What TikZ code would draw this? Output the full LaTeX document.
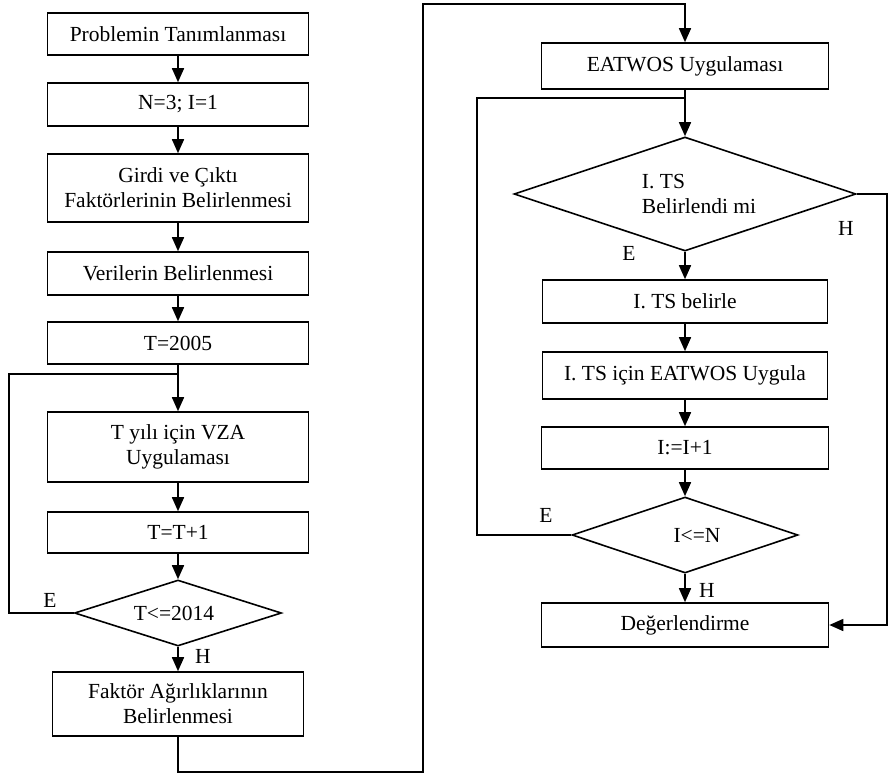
\documentclass[tikz,border=0pt]{standalone}
\usepackage{fontspec}
\setmainfont{Liberation Serif}
\usepackage{tikz}
\usetikzlibrary{shapes,arrows.meta}
\usetikzlibrary{calc}
\tikzstyle{stepbox} = [rectangle, draw, line width=1.6pt, align=center,
    text centered, minimum width=261pt, inner sep=2pt, font=\fontsize{21.5}{25}\selectfont]
\tikzstyle{decide} = [diamond, draw, line width=1.6pt, align=center, inner sep=0pt,
    aspect=3, font=\fontsize{21.5}{25}\selectfont]
\tikzstyle{line} = [draw, line width=1.6pt, -{Triangle[length=14pt,width=12pt]}]
\tikzstyle{wire} = [draw, line width=1.6pt]
\tikzstyle{answer} = [font=\fontsize{21.5}{25}\selectfont, inner sep=0pt]

\begin{document}
\begin{tikzpicture}[x=1pt, y=-1pt]
    \useasboundingbox (0,0) rectangle (888,774);
    % Place nodes (left column)
    \node [stepbox, minimum height=42pt] (problem) at (178,34) {Problemin Tanımlanması};
    \node [stepbox, minimum height=43pt, below of=problem, node distance=70.5pt] (init) {N=3; I=1};
    \node [stepbox, minimum height=68pt, below of=init, node distance=83.5pt] (factors) {Girdi ve Çıktı\\Faktörlerinin Belirlenmesi};
    \node [stepbox, minimum height=43pt, below of=factors, node distance=85.5pt] (data) {Verilerin Belirlenmesi};
    \node [stepbox, minimum height=42pt, below of=data, node distance=69.5pt] (tstart) {T=2005};
    \node [stepbox, minimum height=70pt, below of=tstart, node distance=104pt] (vza) {T yılı için VZA\\Uygulaması};
    \node [stepbox, minimum height=41pt, below of=vza, node distance=85.5pt] (tnext) {T=T+1};
    \node [decide, minimum width=207pt, minimum height=66pt, below of=tnext, node distance=80.5pt] (tcheck) {T<=2014\hspace*{8pt}};
    \node [stepbox, minimum width=251pt, minimum height=64pt, below of=tcheck, node distance=91pt] (weights) {Faktör Ağırlıklarının\\Belirlenmesi};
    % Place nodes (right column)
    \node [stepbox, minimum width=287pt, minimum height=46pt] (eatwos) at (685,66) {EATWOS Uygulaması};
    \node [decide, minimum width=342pt, minimum height=114pt, below of=eatwos, node distance=128pt, align=left] (tsknown) {\hspace*{28pt}I. TS\\\hspace*{28pt}Belirlendi mi};
    \node [stepbox, minimum width=285pt, minimum height=43pt, below of=tsknown, node distance=107.5pt] (tsset) {I. TS belirle};
    \node [stepbox, minimum width=285pt, minimum height=47pt, below of=tsset, node distance=74pt] (tsapply) {I. TS için EATWOS Uygula};
    \node [stepbox, minimum width=287pt, minimum height=42pt, below of=tsapply, node distance=72.5pt] (inext) {I:=I+1};
    \node [decide, minimum width=226pt, minimum height=76pt, below of=inext, node distance=87pt] (icheck) {\hspace*{24pt}I<=N};
    \node [stepbox, minimum width=287pt, minimum height=44pt, below of=icheck, node distance=90pt] (evaluate) {Değerlendirme};
    % Loop corners
    \coordinate (tloop) at (9,374);
    \coordinate (downleft) at (178,772);
    \coordinate (upright) at (423,4);
    \coordinate (iloop) at (477,98);
    \coordinate (hright) at (887,194);
    % Draw edges
    \path [line] (problem) -- (init);
    \path [line] (init) -- (factors);
    \path [line] (factors) -- (data);
    \path [line] (data) -- (tstart);
    \path [line] (tstart) -- (vza);
    \path [line] (vza) -- (tnext);
    \path [line] (tnext) -- (tcheck);
    \path [wire] (tcheck.west) -| (tloop) -- (tstart.south |- tloop);
    \path [line] (tcheck) -- (weights);
    \path [line] (weights.south) -- (downleft) -| (upright) -| (eatwos.north);
    \path [line] (eatwos) -- (tsknown);
    \path [wire] (icheck.west) -| (iloop) -- (eatwos.south |- iloop);
    \path [line] (tsknown) -- (tsset);
    \path [line] (tsset) -- (tsapply);
    \path [line] (tsapply) -- (inext);
    \path [line] (inext) -- (icheck);
    \path [line] (icheck) -- (evaluate);
    \path [line] (tsknown.east) -- (hright) |- (evaluate.east);
    % Branch labels
    \node [answer] (tyes) at (50,600) {E};
    \node [answer] (tno) at (203,656) {H};
    \node [answer] (tsyes) at (629,253) {E};
    \node [answer] (tsno) at (846,228) {H};
    \node [answer] (iyes) at (546,515) {E};
    \node [answer] (ino) at (707,590) {H};
\end{tikzpicture}
\end{document}
